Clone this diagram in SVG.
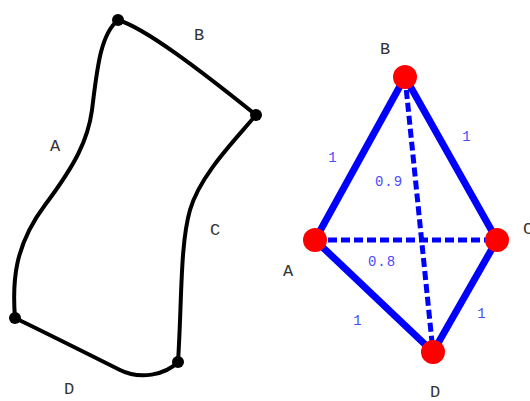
<svg xmlns="http://www.w3.org/2000/svg" width="530" height="401" viewBox="0 0 530 401">
<style>
.lbl{font-family:"Liberation Mono",monospace;font-size:17px;fill:#333;text-anchor:middle}
.wl{font-family:"Liberation Mono",monospace;font-size:14px;fill:#4a4aff;text-anchor:middle;letter-spacing:1px}
.curve{fill:none;stroke:#000;stroke-width:4;stroke-linecap:round}
.edge{stroke:#0000ff;stroke-width:7;stroke-linecap:round}
.dash{stroke:#0000ff;stroke-width:5;stroke-dasharray:9 4}
.bd{fill:#000}
.rn{fill:#ff0000}
</style>
<rect width="530" height="401" fill="#fff"/>
<g id="curves">
<path class="curve" d="M118,20 C145,28 200,70 256,115"/>
<path class="curve" d="M256,115 C235,140 200,175 190,210 C180,245 182,300 178,362"/>
<path class="curve" d="M178,362 C165,375 140,380 120,370 C80,350 40,330 15,318"/>
<path class="curve" d="M15,318 C12,280 15,245 45,205 C75,165 88,140 92,110 C97,70 100,35 118,20"/>
</g>
<g id="curve-points">
<circle class="bd" cx="118" cy="20" r="6"/>
<circle class="bd" cx="256" cy="115" r="6"/>
<circle class="bd" cx="178" cy="362" r="6"/>
<circle class="bd" cx="15" cy="318" r="6"/>
</g>
<g id="curve-labels">
<text class="lbl" x="199" y="40">B</text>
<text class="lbl" x="55" y="151">A</text>
<text class="lbl" x="215" y="235">C</text>
<text class="lbl" x="69" y="394">D</text>
</g>
<g id="connectors">
<line class="edge" x1="405" y1="77" x2="315" y2="240"/>
<line class="edge" x1="405" y1="77" x2="497" y2="240"/>
<line class="edge" x1="315" y1="240" x2="433" y2="352"/>
<line class="edge" x1="497" y1="240" x2="433" y2="352"/>
<line class="dash" x1="315" y1="240" x2="497" y2="240"/>
<line class="dash" x1="405" y1="77" x2="433" y2="352"/>
<text class="wl" x="333" y="162">1</text>
<text class="wl" x="467" y="141">1</text>
<text class="wl" x="389" y="186">0.9</text>
<text class="wl" x="382" y="266">0.8</text>
<text class="wl" x="358" y="325">1</text>
<text class="wl" x="482" y="318">1</text>
</g>
<g id="node-B"><circle class="rn" cx="405" cy="77" r="12"/><text class="lbl" x="385" y="54">B</text></g>
<g id="node-A"><circle class="rn" cx="315" cy="240" r="12"/><text class="lbl" x="288" y="276">A</text></g>
<g id="node-C"><circle class="rn" cx="497" cy="240" r="12"/><text class="lbl" x="528" y="234">C</text></g>
<g id="node-D"><circle class="rn" cx="433" cy="352" r="12"/><text class="lbl" x="435" y="397">D</text></g>
</svg>
